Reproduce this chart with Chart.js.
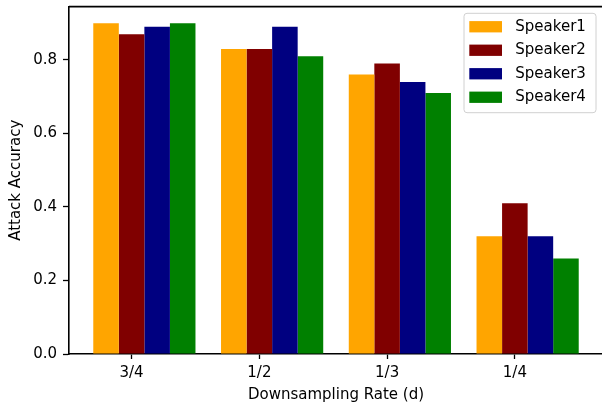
<!DOCTYPE html>
<html>
<head>
<meta charset="utf-8">
<script src="https://cdn.jsdelivr.net/npm/chart.js@4.4.0/dist/chart.umd.min.js"></script>
<style>
html, body { margin: 0; padding: 0; overflow: hidden; background: #fff; }
</style>
</head>
<body>
<canvas id="myBarChart" width="620" height="404"></canvas>
<script>
const rates = ['3/4', '1/2', '1/3', '1/4'];
const speaker1 = [0.90, 0.83, 0.76, 0.32];
const speaker2 = [0.87, 0.83, 0.79, 0.41];
const speaker3 = [0.89, 0.89, 0.74, 0.32];
const speaker4 = [0.90, 0.81, 0.71, 0.26];
const speakerNames = ['Speaker1', 'Speaker2', 'Speaker3', 'Speaker4'];
const speakerColors = ['#ffa500', '#800000', '#000080', '#008000'];
const yTicks = [0, 0.2, 0.4, 0.6, 0.8];

Chart.defaults.font.family = "'DejaVu Sans', sans-serif";
Chart.defaults.font.size = 15;
Chart.defaults.color = '#000';

const allSeries = [speaker1, speaker2, speaker3, speaker4];
const dataBar = {
    datasets: allSeries.map((vals, k) => ({
        label: speakerNames[k],
        data: vals.map((v, i) => ({x: i, y: v})),
        backgroundColor: speakerColors[k],
        borderWidth: 0,
        categoryPercentage: 0.8,
        barPercentage: 1.0
    }))
};

// box round the plot (top + right spines)
const frame = {
    id: 'frame',
    afterDatasetsDraw(chart) {
        const ctx = chart.ctx, a = chart.chartArea;
        ctx.save();
        ctx.strokeStyle = '#000';
        ctx.lineWidth = 1.6;
        ctx.beginPath();
        ctx.moveTo(a.left, a.top);
        ctx.lineTo(a.right, a.top);
        ctx.lineTo(a.right, a.bottom);
        ctx.stroke();
        ctx.restore();
    }
};

// matplotlib-like legend in the upper right corner
const legendBox = {
    id: 'legendBox',
    afterDraw(chart) {
        const ctx = chart.ctx, a = chart.chartArea;
        const w = 132, h = 99.4;
        const x0 = a.right - 7 - w, y0 = a.top + 6.7;
        ctx.save();
        ctx.beginPath();
        ctx.roundRect(x0, y0, w, h, 3);
        ctx.fillStyle = 'rgba(255,255,255,0.8)';
        ctx.fill();
        ctx.strokeStyle = '#d0d0d0';
        ctx.lineWidth = 1;
        ctx.stroke();
        ctx.font = "15px 'DejaVu Sans'";
        ctx.textBaseline = 'middle';
        chart.data.datasets.forEach((ds, k) => {
            const cy = y0 + 13.4 + k * 23.5;
            ctx.fillStyle = ds.backgroundColor;
            ctx.fillRect(x0 + 5.3, cy - 5.6, 32.7, 11.3);
            ctx.fillStyle = '#000';
            ctx.fillText(ds.label, x0 + 51.3, cy);
        });
        ctx.restore();
    }
};

const config = {
    type: 'bar',
    data: dataBar,
    plugins: [frame, legendBox],
    options: {
        responsive: false,
        animation: false,
        devicePixelRatio: 1,
        layout: { padding: { top: 6.6, right: 17, left: 0, bottom: 0 } },
        plugins: {
            legend: { display: false },
            tooltip: { enabled: false }
        },
        scales: {
            x: {
                type: 'linear',
                offset: false,
                min: -0.59,
                max: 3.59,
                afterBuildTicks: s => { s.ticks = rates.map((r, i) => ({value: i - 0.1})); },
                afterFit: s => { s.height = 50; s.paddingLeft = 0; s.paddingRight = 0; },
                ticks: {
                    callback: (v, i) => rates[i],
                    padding: 5,
                    maxRotation: 0,
                    autoSkip: false,
                    color: '#000'
                },
                grid: {
                    offset: false,
                    drawOnChartArea: false,
                    drawTicks: true,
                    tickLength: 5,
                    tickWidth: 1.3,
                    tickColor: '#000'
                },
                border: { display: true, color: '#000', width: 1.6 },
                title: {
                    display: true,
                    text: 'Downsampling Rate (d)',
                    color: '#000',
                    padding: { top: 0, bottom: 0 }
                }
            },
            y: {
                min: 0,
                max: 0.945,
                afterBuildTicks: s => { s.ticks = yTicks.map(v => ({value: v})); },
                afterFit: s => { s.width = 69; s.paddingTop = 0; s.paddingBottom = 0; },
                ticks: {
                    callback: v => v.toFixed(1),
                    padding: 6,
                    color: '#000'
                },
                grid: {
                    drawOnChartArea: false,
                    drawTicks: true,
                    tickLength: 6,
                    tickWidth: 1.3,
                    tickColor: '#000'
                },
                border: { display: true, color: '#000', width: 1.6 },
                title: {
                    display: true,
                    text: 'Attack Accuracy',
                    color: '#000',
                    padding: { top: 7, bottom: 0 }
                }
            }
        }
    }
};
const myBarChart = new Chart(document.getElementById('myBarChart'), config);
</script>
</body>
</html>
